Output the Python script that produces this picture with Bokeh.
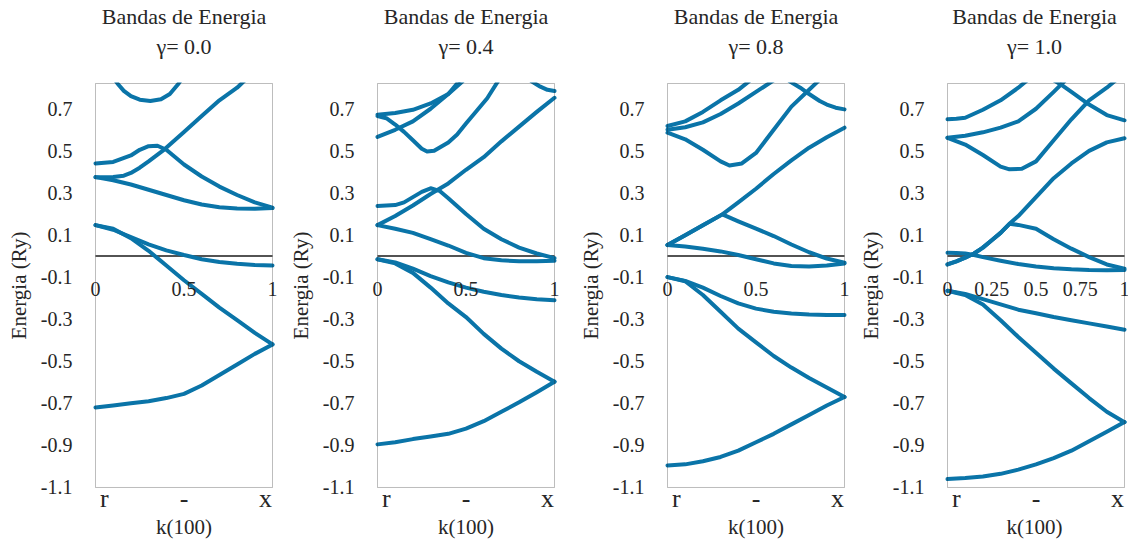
from bokeh.plotting import figure
from bokeh.models import (Range1d, FixedTicker, Label, LinearAxis,
                          PrintfTickFormatter, BoxAnnotation)
from bokeh.layouts import row
from bokeh.embed import file_html
from bokeh.resources import INLINE

FONT = "Liberation Serif"
BLUE = "#0a74a8"
TXT = "#262626"

# ---------------- data ----------------
k_min, k_max = 0.0, 1.0
e_min, e_max = -1.1, 0.82
k_full = [0.0, 0.1, 0.2, 0.3, 0.4, 0.5, 0.6, 0.7, 0.8, 0.9, 1.0]
gammas = ["0.0", "0.4", "0.8", "1.0"]
y_ticks = [-1.1, -0.9, -0.7, -0.5, -0.3, -0.1, 0.1, 0.3, 0.5, 0.7]
sym_pos = [0.05, 0.5, 0.96]
sym_txt = ["r", "-", "x"]
k_ticks_std = [0, 0.5, 1]
k_ticks_fine = [0, 0.25, 0.5, 0.75, 1]

# gamma = 0.0
g0_A = [-0.72, -0.71, -0.70, -0.69, -0.675, -0.655, -0.615, -0.565, -0.515, -0.465, -0.42]
g0_B_k = [0, 0.1, 0.2, 0.3, 0.35, 0.4, 0.5, 0.6, 0.7, 0.8, 0.9, 1.0]
g0_B_e = [0.147, 0.13, 0.085, 0.025, -0.01, -0.045, -0.115, -0.18, -0.245, -0.305, -0.365, -0.42]
g0_C = [0.147, 0.125, 0.09, 0.055, 0.027, 0.005, -0.015, -0.028, -0.037, -0.042, -0.045]
g0_D = [0.375, 0.36, 0.34, 0.315, 0.29, 0.265, 0.245, 0.232, 0.226, 0.225, 0.228]
g0_E_k = [0, 0.1, 0.16, 0.2, 0.25, 0.3, 0.39, 0.5, 0.6, 0.7, 0.8, 0.85]
g0_E_e = [0.375, 0.376, 0.382, 0.395, 0.42, 0.45, 0.507, 0.59, 0.665, 0.74, 0.80, 0.84]
g0_F_k = [0, 0.1, 0.2, 0.25, 0.3, 0.35, 0.4, 0.5, 0.6, 0.7, 0.8, 0.9, 1.0]
g0_F_e = [0.44, 0.447, 0.478, 0.505, 0.522, 0.524, 0.505, 0.435, 0.378, 0.33, 0.29, 0.255, 0.23]
g0_G_k = [0.1, 0.124, 0.16, 0.2, 0.25, 0.31, 0.37, 0.42, 0.47, 0.5]
g0_G_e = [0.85, 0.82, 0.785, 0.76, 0.743, 0.737, 0.745, 0.77, 0.82, 0.86]

# gamma = 0.4
g4_A = [-0.895, -0.885, -0.87, -0.858, -0.845, -0.82, -0.785, -0.74, -0.695, -0.647, -0.597]
g4_B = [-0.015, -0.035, -0.08, -0.15, -0.225, -0.29, -0.37, -0.44, -0.5, -0.55, -0.597]
g4_C = [-0.015, -0.03, -0.06, -0.095, -0.125, -0.15, -0.17, -0.185, -0.197, -0.205, -0.21]
g4_D = [0.147, 0.13, 0.11, 0.08, 0.05, 0.015, -0.01, -0.02, -0.025, -0.025, -0.022]
g4_E = [0.147, 0.19, 0.24, 0.295, 0.345, 0.41, 0.47, 0.545, 0.615, 0.685, 0.752]
g4_F_k = [0, 0.1, 0.15, 0.2, 0.25, 0.3, 0.35, 0.4, 0.5, 0.6, 0.7, 0.8, 0.9, 1.0]
g4_F_e = [0.238, 0.242, 0.255, 0.28, 0.305, 0.322, 0.31, 0.275, 0.2, 0.13, 0.08, 0.04, 0.012, -0.01]
g4_G_k = [0, 0.1, 0.2, 0.3, 0.4, 0.46]
g4_G_e = [0.566, 0.6, 0.64, 0.7, 0.77, 0.83]
g4_H_k = [0, 0.05, 0.1, 0.15, 0.2, 0.25, 0.28, 0.32, 0.4, 0.45, 0.5, 0.55, 0.62, 0.68]
g4_H_e = [0.665, 0.655, 0.625, 0.59, 0.55, 0.51, 0.497, 0.5, 0.54, 0.578, 0.63, 0.68, 0.75, 0.83]
g4_I_k = [0, 0.1, 0.2, 0.3, 0.4, 0.48]
g4_I_e = [0.672, 0.68, 0.695, 0.725, 0.77, 0.83]
g4_J_k = [0.87, 0.92, 0.96, 1.0]
g4_J_e = [0.83, 0.805, 0.79, 0.784]

# gamma = 0.8
g8_A = [-0.995, -0.99, -0.975, -0.955, -0.925, -0.885, -0.845, -0.8, -0.755, -0.71, -0.67]
g8_B = [-0.1, -0.12, -0.185, -0.265, -0.345, -0.41, -0.475, -0.53, -0.58, -0.625, -0.67]
g8_C = [-0.1, -0.118, -0.15, -0.19, -0.225, -0.25, -0.265, -0.273, -0.278, -0.28, -0.28]
g8_D = [0.052, 0.045, 0.035, 0.022, 0.005, -0.015, -0.035, -0.047, -0.05, -0.045, -0.035]
g8_E_k = [0, 0.1, 0.2, 0.31, 0.4, 0.5, 0.6, 0.7, 0.8, 0.9, 1.0]
g8_E_e = [0.052, 0.099, 0.146, 0.198, 0.165, 0.13, 0.095, 0.055, 0.018, -0.012, -0.032]
g8_F_k = [0, 0.1, 0.2, 0.31, 0.4, 0.5, 0.6, 0.7, 0.8, 0.9, 1.0]
g8_F_e = [0.052, 0.099, 0.146, 0.198, 0.255, 0.32, 0.39, 0.455, 0.515, 0.565, 0.61]
g8_G_k = [0, 0.1, 0.2, 0.3, 0.35, 0.42, 0.5, 0.6, 0.7, 0.8, 0.85]
g8_G_e = [0.586, 0.555, 0.505, 0.45, 0.43, 0.44, 0.49, 0.6, 0.71, 0.79, 0.83]
g8_H_k = [0, 0.1, 0.2, 0.3, 0.4, 0.5, 0.6]
g8_H_e = [0.6, 0.612, 0.635, 0.675, 0.725, 0.78, 0.835]
g8_I_k = [0, 0.1, 0.2, 0.3, 0.4, 0.46]
g8_I_e = [0.618, 0.64, 0.685, 0.74, 0.79, 0.83]
g8_J_k = [0.69, 0.75, 0.8, 0.86, 0.9, 0.95, 1.0]
g8_J_e = [0.83, 0.8, 0.77, 0.737, 0.72, 0.705, 0.697]

# gamma = 1.0
g10_A = [-1.06, -1.055, -1.048, -1.035, -1.015, -0.99, -0.96, -0.925, -0.88, -0.835, -0.789]
g10_B = [-0.165, -0.185, -0.23, -0.305, -0.385, -0.46, -0.535, -0.605, -0.675, -0.74, -0.79]
g10_C = [-0.165, -0.18, -0.205, -0.23, -0.255, -0.272, -0.29, -0.305, -0.32, -0.335, -0.35]
g10_D_k = [0, 0.05, 0.1, 0.15, 0.2, 0.3, 0.4, 0.5, 0.6, 0.7, 0.8, 0.9, 1.0]
g10_D_e = [0.016, 0.015, 0.012, 0.005, -0.005, -0.022, -0.038, -0.05, -0.058, -0.063, -0.066, -0.067, -0.066]
g10_E_k = [0, 0.05, 0.1, 0.15, 0.2, 0.25, 0.3, 0.35, 0.4, 0.5, 0.6, 0.7, 0.8, 0.9, 1.0]
g10_E_e = [-0.04, -0.025, -0.008, 0.012, 0.04, 0.075, 0.11, 0.153, 0.19, 0.28, 0.37, 0.44, 0.5, 0.54, 0.56]
g10_F_k = [0, 0.05, 0.1, 0.15, 0.2, 0.25, 0.3, 0.35, 0.4, 0.5, 0.6, 0.7, 0.8, 0.9, 1.0]
g10_F_e = [-0.04, -0.025, -0.008, 0.012, 0.04, 0.075, 0.11, 0.153, 0.148, 0.13, 0.08, 0.035, -0.005, -0.04, -0.06]
g10_G_k = [0, 0.1, 0.2, 0.3, 0.35, 0.42, 0.5, 0.6, 0.7, 0.8, 0.9, 0.95]
g10_G_e = [0.562, 0.53, 0.48, 0.425, 0.412, 0.415, 0.45, 0.55, 0.65, 0.74, 0.80, 0.835]
g10_H_k = [0, 0.1, 0.2, 0.3, 0.4, 0.5, 0.6, 0.66]
g10_H_e = [0.562, 0.572, 0.588, 0.61, 0.64, 0.7, 0.78, 0.83]
g10_I_k = [0, 0.05, 0.1, 0.2, 0.3, 0.4, 0.45]
g10_I_e = [0.65, 0.652, 0.657, 0.695, 0.74, 0.8, 0.835]
g10_J_k = [0.6, 0.65, 0.7, 0.8, 0.9, 1.0]
g10_J_e = [0.835, 0.81, 0.78, 0.72, 0.67, 0.645]

bands = [
    [(k_full, g0_A), (g0_B_k, g0_B_e), (k_full, g0_C), (k_full, g0_D),
     (g0_E_k, g0_E_e), (g0_F_k, g0_F_e), (g0_G_k, g0_G_e)],
    [(k_full, g4_A), (k_full, g4_B), (k_full, g4_C), (k_full, g4_D), (k_full, g4_E),
     (g4_F_k, g4_F_e), (g4_G_k, g4_G_e), (g4_H_k, g4_H_e), (g4_I_k, g4_I_e), (g4_J_k, g4_J_e)],
    [(k_full, g8_A), (k_full, g8_B), (k_full, g8_C), (k_full, g8_D), (g8_E_k, g8_E_e),
     (g8_F_k, g8_F_e), (g8_G_k, g8_G_e), (g8_H_k, g8_H_e), (g8_I_k, g8_I_e), (g8_J_k, g8_J_e)],
    [(k_full, g10_A), (k_full, g10_B), (k_full, g10_C), (g10_D_k, g10_D_e), (g10_E_k, g10_E_e),
     (g10_F_k, g10_F_e), (g10_G_k, g10_G_e), (g10_H_k, g10_H_e), (g10_I_k, g10_I_e), (g10_J_k, g10_J_e)],
]
k_tick_sets = [k_ticks_std, k_ticks_std, k_ticks_std, k_ticks_fine]

# ---------------- layout (pixels) ----------------
BOX_W = 177          # width of the visible axes box
PX_PER_E = 210.4     # pixels per Ry on the energy axis
PAD_L = 7            # frame padding left of the box (room for the "0" label)
pads_r = [7, 7, 7, 4]
borders_r = [3, 11, 1, 0]
BORDER_L = 88
TOP = 82
BOTTOM = 50


def make_panel(i):
    pad_r = pads_r[i]
    fw = BOX_W + PAD_L + pad_r
    ey = 1.0 / PX_PER_E
    p = figure(frame_width=fw, frame_height=406,
               x_range=Range1d(k_min - PAD_L / BOX_W, k_max + pad_r / BOX_W),
               y_range=Range1d(e_min - ey, e_max + ey),
               output_backend="svg", toolbar_location=None,
               min_border_left=BORDER_L, min_border_right=borders_r[i],
               min_border_top=TOP, min_border_bottom=BOTTOM,
               background_fill_color="white", border_fill_color="white")
    p.outline_line_color = None
    p.grid.visible = False

    # y axis
    ya = p.left[0]
    ya.ticker = FixedTicker(ticks=y_ticks)
    ya.formatter = PrintfTickFormatter(format="%.1f")
    ya.axis_line_color = None
    ya.major_tick_line_color = None
    ya.minor_tick_line_color = None
    ya.major_tick_out = 0
    ya.major_tick_in = 0
    ya.major_label_standoff = 16
    ya.major_label_text_font = FONT
    ya.major_label_text_font_size = "20px"
    ya.major_label_text_color = TXT
    ya.axis_label = "Energia (Ry)"
    ya.axis_label_text_font = FONT
    ya.axis_label_text_font_size = "21px"
    ya.axis_label_text_font_style = "normal"
    ya.axis_label_text_color = TXT
    ya.axis_label_standoff = 7

    # x axis (symmetry point labels)
    xa = p.below[0]
    xa.ticker = FixedTicker(ticks=sym_pos)
    xa.major_label_overrides = {pos: t for pos, t in zip(sym_pos, sym_txt)}
    xa.axis_line_color = None
    xa.major_tick_line_color = None
    xa.minor_tick_line_color = None
    xa.major_tick_out = 0
    xa.major_tick_in = 0
    xa.major_label_standoff = -5
    xa.major_label_text_font = FONT
    xa.major_label_text_font_size = "26px"
    xa.major_label_text_color = TXT
    xa.axis_label = "k(100)"
    xa.axis_label_text_font = FONT
    xa.axis_label_text_font_size = "21px"
    xa.axis_label_text_font_style = "normal"
    xa.axis_label_text_color = TXT
    xa.axis_label_standoff = -1

    # two-line title: gamma line closest to the frame, then the main title
    for txt, sd in (("\u03b3= " + gammas[i], 24), ("Bandas de Energia", 2)):
        ax = LinearAxis(ticker=FixedTicker(ticks=[]), axis_label=txt,
                        axis_line_color=None, major_tick_line_color=None,
                        minor_tick_line_color=None, major_tick_out=0, major_tick_in=0,
                        minor_tick_out=0, minor_tick_in=0, major_label_standoff=0,
                        axis_label_standoff=sd, axis_label_text_font=FONT,
                        axis_label_text_font_size="22px", axis_label_text_font_style="normal",
                        axis_label_text_color=TXT)
        p.add_layout(ax, "above")

    # axes box
    p.add_layout(BoxAnnotation(left=k_min, right=k_max, bottom=e_min, top=e_max,
                               fill_alpha=0, line_color=TXT, line_width=1, level="overlay"))

    # energy-zero axis line through the origin, with its tick labels
    p.segment(x0=[k_min], y0=[0], x1=[k_max], y1=[0], line_color="#1a1a1a", line_width=1.6)
    for t in k_tick_sets[i]:
        p.add_layout(Label(x=t, y=0, text="%g" % t, text_align="center",
                           text_baseline="alphabetic", y_offset=-33,
                           text_font=FONT, text_font_size="20px", text_color=TXT))

    for kk, ee in bands[i]:
        p.line(kk, ee, line_color=BLUE, line_width=4, line_join="round", line_cap="round")
    return p


panels = [make_panel(i) for i in range(4)]
layout = row(*panels)
open("out.html", "w").write(file_html(layout, INLINE))
